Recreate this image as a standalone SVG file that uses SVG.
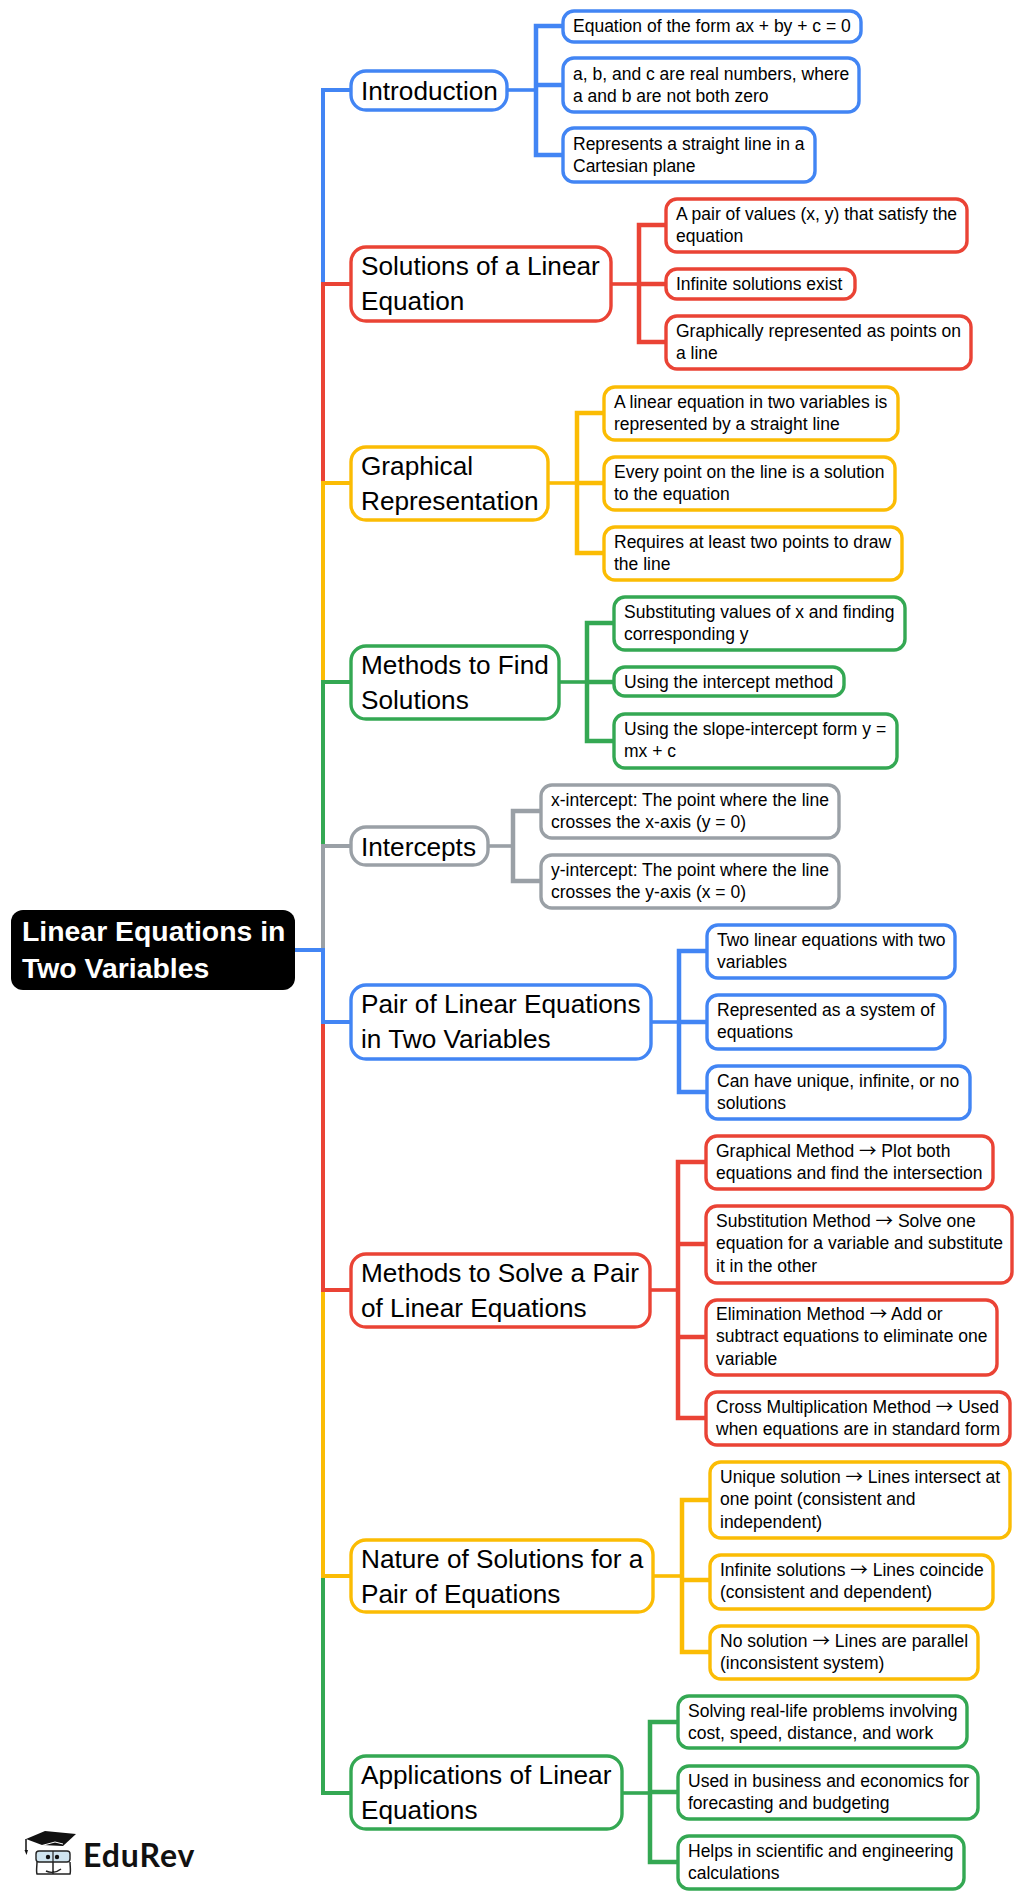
<svg xmlns="http://www.w3.org/2000/svg" width="1024" height="1900" viewBox="0 0 1024 1900">
<style>
text{font-family:"Liberation Sans",Arial,sans-serif;fill:#000}
.l1 text{font-size:26.2px}
.lf text{font-size:17.5px}
.ar{font-family:"Noto Sans CJK SC",sans-serif}
rect{fill:#fff;stroke-width:3.4}
.l1 rect{rx:15px}
.lf rect{rx:11px}
path{fill:none;stroke-width:4;stroke-linejoin:miter}
.b rect{stroke:#4285F4}.r rect{stroke:#EA4335}.y rect{stroke:#FBBC04}.g rect{stroke:#34A853}.k rect{stroke:#9AA0A6}
path.b{stroke:#4285F4}path.r{stroke:#EA4335}path.y{stroke:#FBBC04}path.g{stroke:#34A853}path.k{stroke:#9AA0A6}
path.t{stroke-width:4.5}
path.s{stroke-width:3.6}
</style>
<g id="connectors">
<path class="b" d="M295 950H323V90H352"/>
<path class="r" d="M295 950H323V284H352"/>
<path class="y" d="M295 950H323V483H352"/>
<path class="g" d="M295 950H323V682H352"/>
<path class="k" d="M295 950H323V846H352"/>
<path class="g" d="M295 950H323V1793H352"/>
<path class="y" d="M295 950H323V1576H352"/>
<path class="r" d="M295 950H323V1290H352"/>
<path class="b" d="M295 950H323V1022H352"/>
<path class="b s" d="M506 90H536"/><path class="b t" d="M564 26H536V155H564M536 85H564"/>
<path class="r s" d="M610 284H639"/><path class="r t" d="M667 225H639V342H667M639 284H667"/>
<path class="y s" d="M547 483H577"/><path class="y t" d="M605 413H577V553H605M577 483H605"/>
<path class="g s" d="M558 682H587"/><path class="g t" d="M615 623H587V741H615M587 682H615"/>
<path class="k s" d="M485 846H513"/><path class="k t" d="M542 811H513V881H542"/>
<path class="b s" d="M650 1022H679"/><path class="b t" d="M708 951H679V1092H708M679 1022H708"/>
<path class="r s" d="M649 1290H678"/><path class="r t" d="M707 1162H678V1418H707M678 1244H707M678 1337H707"/>
<path class="y s" d="M652 1576H682"/><path class="y t" d="M711 1500H682V1652H711M682 1580H711"/>
<path class="g s" d="M621 1793H650"/><path class="g t" d="M679 1722H650V1862H679M650 1792H679"/>
</g>
<g id="root"><rect x="11" y="910" width="284" height="80" rx="12" style="fill:#000;stroke:none"/>
<text x="22" y="941" style="fill:#fff;font-size:28.4px;font-weight:bold">Linear Equations in</text>
<text x="22" y="978" style="fill:#fff;font-size:28.4px;font-weight:bold">Two Variables</text></g>

<g id="n1" class="l1 b"><rect x="351" y="71" width="156" height="39"/><text x="361" y="100">Introduction</text></g>
<g id="n1a" class="lf b"><rect x="563" y="11" width="298" height="31"/><text x="573" y="32">Equation of the form ax + by + c = 0</text></g>
<g id="n1b" class="lf b"><rect x="563" y="58" width="296" height="54"/><text x="573" y="79.5">a, b, and c are real numbers, where</text><text x="573" y="102">a and b are not both zero</text></g>
<g id="n1c" class="lf b"><rect x="563" y="128" width="252" height="54"/><text x="573" y="149.5">Represents a straight line in a</text><text x="573" y="172">Cartesian plane</text></g>

<g id="n2" class="l1 r"><rect x="351" y="247" width="260" height="74"/><text x="361" y="275">Solutions of a Linear</text><text x="361" y="310">Equation</text></g>
<g id="n2a" class="lf r"><rect x="666" y="199" width="301" height="53"/><text x="676" y="219.5">A pair of values (x, y) that satisfy the</text><text x="676" y="242">equation</text></g>
<g id="n2b" class="lf r"><rect x="666" y="269" width="189" height="30"/><text x="676" y="290">Infinite solutions exist</text></g>
<g id="n2c" class="lf r"><rect x="666" y="316" width="305" height="53"/><text x="676" y="336.5">Graphically represented as points on</text><text x="676" y="359">a line</text></g>

<g id="n3" class="l1 y"><rect x="351" y="447" width="197" height="73"/><text x="361" y="475">Graphical</text><text x="361" y="510">Representation</text></g>
<g id="n3a" class="lf y"><rect x="604" y="387" width="294" height="53"/><text x="614" y="407.5">A linear equation in two variables is</text><text x="614" y="430">represented by a straight line</text></g>
<g id="n3b" class="lf y"><rect x="604" y="457" width="291" height="53"/><text x="614" y="477.5">Every point on the line is a solution</text><text x="614" y="500">to the equation</text></g>
<g id="n3c" class="lf y"><rect x="604" y="527" width="298" height="53"/><text x="614" y="547.5">Requires at least two points to draw</text><text x="614" y="570">the line</text></g>

<g id="n4" class="l1 g"><rect x="351" y="646" width="208" height="73"/><text x="361" y="674">Methods to Find</text><text x="361" y="709">Solutions</text></g>
<g id="n4a" class="lf g"><rect x="614" y="597" width="291" height="53"/><text x="624" y="617.5">Substituting values of x and finding</text><text x="624" y="640">corresponding y</text></g>
<g id="n4b" class="lf g"><rect x="614" y="667" width="230" height="29"/><text x="624" y="688">Using the intercept method</text></g>
<g id="n4c" class="lf g"><rect x="614" y="714" width="283" height="54"/><text x="624" y="734.5">Using the slope-intercept form y =</text><text x="624" y="757">mx + c</text></g>

<g id="n5" class="l1 k"><rect x="351" y="827" width="137" height="38"/><text x="361" y="856">Intercepts</text></g>
<g id="n5a" class="lf k"><rect x="541" y="785" width="298" height="53"/><text x="551" y="805.5">x-intercept: The point where the line</text><text x="551" y="828">crosses the x-axis (y = 0)</text></g>
<g id="n5b" class="lf k"><rect x="541" y="855" width="298" height="53"/><text x="551" y="875.5">y-intercept: The point where the line</text><text x="551" y="898">crosses the y-axis (x = 0)</text></g>

<g id="n6" class="l1 b"><rect x="351" y="985" width="300" height="74"/><text x="361" y="1013">Pair of Linear Equations</text><text x="361" y="1048">in Two Variables</text></g>
<g id="n6a" class="lf b"><rect x="707" y="925" width="248" height="53"/><text x="717" y="945.5">Two linear equations with two</text><text x="717" y="968">variables</text></g>
<g id="n6b" class="lf b"><rect x="707" y="995" width="238" height="54"/><text x="717" y="1015.5">Represented as a system of</text><text x="717" y="1038">equations</text></g>
<g id="n6c" class="lf b"><rect x="707" y="1066" width="263" height="53"/><text x="717" y="1086.5">Can have unique, infinite, or no</text><text x="717" y="1109">solutions</text></g>

<g id="n7" class="l1 r"><rect x="351" y="1254" width="299" height="73"/><text x="361" y="1282">Methods to Solve a Pair</text><text x="361" y="1317">of Linear Equations</text></g>
<g id="n7a" class="lf r"><rect x="706" y="1136" width="287" height="53"/><text x="716" y="1156.5">Graphical Method <tspan class="ar">→</tspan> Plot both</text><text x="716" y="1179">equations and find the intersection</text></g>
<g id="n7b" class="lf r"><rect x="706" y="1206" width="306" height="77"/><text x="716" y="1226.5">Substitution Method <tspan class="ar">→</tspan> Solve one</text><text x="716" y="1249">equation for a variable and substitute</text><text x="716" y="1272">it in the other</text></g>
<g id="n7c" class="lf r"><rect x="706" y="1300" width="291" height="75"/><text x="716" y="1319.5">Elimination Method <tspan class="ar">→</tspan> Add or</text><text x="716" y="1342">subtract equations to eliminate one</text><text x="716" y="1365">variable</text></g>
<g id="n7d" class="lf r"><rect x="706" y="1392" width="304" height="53"/><text x="716" y="1412.5">Cross Multiplication Method <tspan class="ar">→</tspan> Used</text><text x="716" y="1435">when equations are in standard form</text></g>

<g id="n8" class="l1 y"><rect x="351" y="1540" width="302" height="72"/><text x="361" y="1568">Nature of Solutions for a</text><text x="361" y="1603">Pair of Equations</text></g>
<g id="n8a" class="lf y"><rect x="710" y="1462" width="300" height="76"/><text x="720" y="1482.5">Unique solution <tspan class="ar">→</tspan> Lines intersect at</text><text x="720" y="1505">one point (consistent and</text><text x="720" y="1528">independent)</text></g>
<g id="n8b" class="lf y"><rect x="710" y="1555" width="283" height="54"/><text x="720" y="1575.5">Infinite solutions <tspan class="ar">→</tspan> Lines coincide</text><text x="720" y="1598">(consistent and dependent)</text></g>
<g id="n8c" class="lf y"><rect x="710" y="1626" width="268" height="53"/><text x="720" y="1646.5">No solution <tspan class="ar">→</tspan> Lines are parallel</text><text x="720" y="1669">(inconsistent system)</text></g>

<g id="n9" class="l1 g"><rect x="351" y="1756" width="271" height="73"/><text x="361" y="1784">Applications of Linear</text><text x="361" y="1819">Equations</text></g>
<g id="n9a" class="lf g"><rect x="678" y="1696" width="289" height="52"/><text x="688" y="1716.5">Solving real-life problems involving</text><text x="688" y="1739">cost, speed, distance, and work</text></g>
<g id="n9b" class="lf g"><rect x="678" y="1766" width="300" height="53"/><text x="688" y="1786.5">Used in business and economics for</text><text x="688" y="1809">forecasting and budgeting</text></g>
<g id="n9c" class="lf g"><rect x="678" y="1836" width="286" height="53"/><text x="688" y="1856.5">Helps in scientific and engineering</text><text x="688" y="1879">calculations</text></g>

<g id="logo">
<path d="M37 1862c0 4-1 9 0 12h33c1-3 0-8 0-12M53 1862v12M46 1871c4 2 10 2 15-2" style="stroke:#222;stroke-width:1.5"/>
<rect x="36" y="1851" width="34" height="11" rx="3" style="fill:#cfe4ef;stroke:#222;stroke-width:1.4"/>
<path d="M53 1851v11" style="stroke:#222;stroke-width:1.2"/>
<circle cx="48" cy="1857" r="2.2" style="fill:#111"/><circle cx="57" cy="1857" r="2.2" style="fill:#111"/>
<polygon points="26,1839 45,1831 76,1834 63,1846 42,1845" style="fill:#111"/>
<path d="M40 1846l15-4 8 2" style="stroke:#fff;stroke-width:1"/>
<path d="M26 1839V1851" style="stroke:#111;stroke-width:1.5"/>
<polygon points="24.5,1850 28,1850 26.5,1855" style="fill:#111"/>
<text x="83" y="1867" style="font-family:Lato,'Liberation Sans',sans-serif;font-weight:700;font-size:32px;letter-spacing:.9px;fill:#111">EduRev</text>
</g>
</svg>
